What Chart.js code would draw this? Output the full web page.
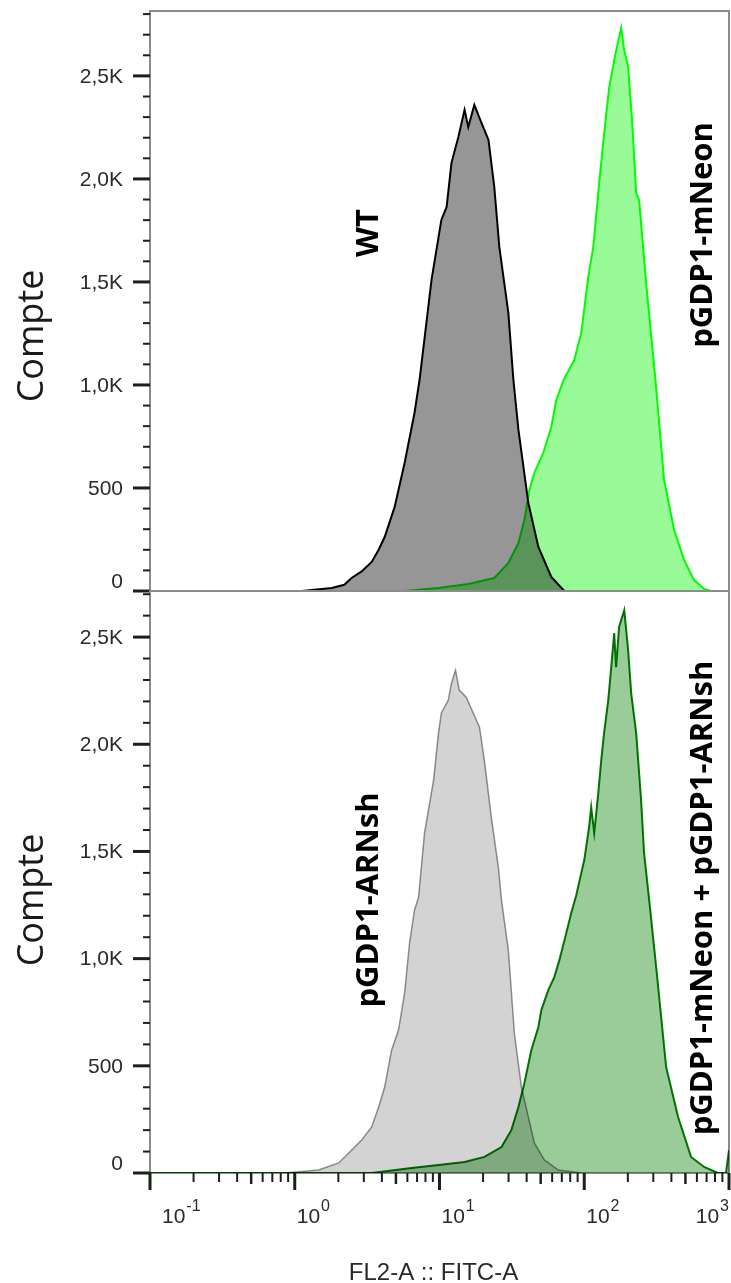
<!DOCTYPE html>
<html>
<head>
<meta charset="utf-8">
<title>FL2-A :: FITC-A</title>
<script src="https://cdn.jsdelivr.net/npm/chart.js@4.4.0/dist/chart.umd.min.js"></script>
<style>
  html, body { margin: 0; padding: 0; background: #fff; }
  #wrap { position: relative; width: 731px; height: 1283px; }
  canvas { position: absolute; left: 0; }
  #top-chart { top: 0; }
  #bottom-chart { top: 580px; }
</style>
</head>
<body>
<div id="wrap">
  <canvas id="top-chart" width="731" height="600"></canvas>
  <canvas id="bottom-chart" width="731" height="703"></canvas>
</div>
<script>
// valeurs : intensité FITC-A (log) et nombre d'événements

// panneau du haut : WT
const wtFluo = [1.12, 1.8, 2.2, 2.47, 2.9, 3.4, 3.8, 4.18, 4.9, 5.74, 6.72, 7.28, 8.81, 10.3, 11.2, 12.1, 13.5, 14.9, 15.8, 17.4, 19.5, 21.8, 23.9, 25.9, 29.9, 32.4, 35.1, 41.1, 48.2, 59.2, 72.8];
const wtCount = [0, 15, 30, 63, 95, 141, 200, 262, 408, 621, 864, 1024, 1510, 1801, 1864, 2078, 2204, 2335, 2252, 2359, 2272, 2189, 1961, 1670, 1350, 1024, 782, 427, 214, 68, 0];

// panneau du haut : pGDP1-mNeon
const mneonFluo = [0.1, 5.74, 9.84, 15.8, 23.9, 29.9, 35.1, 38.6, 41.8, 45.2, 52.1, 59.2, 64.1, 72, 85.3, 95.3, 106.6, 115.4, 126.8, 137.3, 148.6, 163.6, 179.9, 188.7, 201, 214, 228.5, 239.4, 267.7, 310, 356, 418, 490, 574, 673, 751, 1000];
const mneonCount = [0, 0, 15, 34, 63, 136, 233, 345, 490, 573, 670, 796, 927, 1024, 1121, 1252, 1524, 1670, 1981, 2223, 2442, 2602, 2733, 2626, 2544, 2286, 1932, 1898, 1495, 1030, 539, 296, 150, 53, 10, 0, 0];

// panneau du bas : pGDP1-ARNsh
const arnFluo = [0.853, 1.46, 2.01, 2.36, 2.9, 3.4, 3.8, 4.18, 4.67, 5.21, 5.74, 6.21, 6.72, 7.17, 7.88, 9.1, 9.84, 10.3, 11.5, 12.1, 12.9, 13.7, 15.3, 17.1, 18.9, 20.4, 22.8, 25.5, 26.8, 29.9, 32.9, 36.8, 41.1, 45.2, 53, 66.2, 95.3];
const arnCount = [0, 14, 47, 93, 154, 215, 308, 401, 574, 667, 840, 1073, 1227, 1287, 1586, 1833, 2052, 2146, 2206, 2285, 2346, 2253, 2220, 2146, 2080, 1926, 1660, 1427, 1273, 1040, 653, 401, 261, 140, 61, 14, 0];

// panneau du bas : pGDP1-mNeon + pGDP1-ARNsh
const comboFluo = [0.1, 3.4, 6.41, 9.84, 14.9, 20.4, 26.8, 31.4, 35.1, 38.6, 43.1, 48.2, 50.5, 56.5, 62.1, 67.3, 75.1, 81.3, 88.1, 95.3, 100, 108, 111.7, 117.2, 125, 131, 137, 146.5, 153.6, 161, 166, 174, 189, 201, 211, 228.5, 247, 259, 281, 314, 368, 445, 547, 673, 839, 953, 1000];
const comboCount = [0, 0, 23, 37, 51, 75, 121, 201, 308, 420, 574, 681, 760, 854, 914, 993, 1119, 1213, 1297, 1399, 1460, 1614, 1707, 1586, 1772, 1926, 2052, 2206, 2360, 2519, 2360, 2547, 2626, 2439, 2239, 2052, 1740, 1493, 1273, 961, 494, 261, 75, 28, 0, 0, 107];

// axes
const xDecades = [0.1, 1, 10, 100, 1000];
const xExponents = ['-1', '0', '1', '2', '3'];
const yMajorTicks = [0, 500, 1000, 1500, 2000, 2500];
const yTickLabels = ['0', '500', '1,0K', '1,5K', '2,0K', '2,5K'];
const topMax = 2815;
const bottomMax = 2715;

function toPoints(xs, ys) {
    return xs.map((x, i) => ({ x: x, y: ys[i] }));
}

function histo(label, xs, ys, fill, line, width) {
    return {
        label: label,
        data: toPoints(xs, ys),
        backgroundColor: fill,
        borderColor: line,
        borderWidth: width,
        fill: 'origin',
        pointRadius: 0,
        tension: 0
    };
}

const tickFont = '21px "Liberation Sans", Arial, sans-serif';
const supFont = '16px "Liberation Sans", Arial, sans-serif';

// cadre, graduations, textes (style FlowJo)
function axesPlugin(cfg) {
    return {
        id: 'cytoAxes',
        beforeDatasetsDraw(chart) {
            const ctx = chart.ctx;
            const a = chart.chartArea;
            ctx.save();
            ctx.strokeStyle = '#8c8c8c';
            ctx.lineWidth = 2;
            ctx.strokeRect(a.left, a.top, a.right - a.left, a.bottom - a.top);
            ctx.restore();
            // les histogrammes se superposent en "multiply"
            ctx.save();
            ctx.globalCompositeOperation = 'multiply';
        },
        afterDatasetsDraw(chart) {
            chart.ctx.restore();
        },
        afterDraw(chart) {
            const ctx = chart.ctx;
            const a = chart.chartArea;
            const xs = chart.scales.x;
            const ys = chart.scales.y;
            ctx.save();
            ctx.strokeStyle = '#1e1e1e';
            ctx.fillStyle = '#2a2a2a';

            // graduations Y
            for (let v = 0; v <= ys.max; v += 100) {
                const y = ys.getPixelForValue(v);
                const major = v % 500 === 0;
                ctx.lineWidth = major ? 3 : 2;
                ctx.beginPath();
                ctx.moveTo(a.left - (major ? 17 : 7), y);
                ctx.lineTo(a.left, y);
                ctx.stroke();
            }
            ctx.font = tickFont;
            ctx.textAlign = 'right';
            yMajorTicks.forEach((v, i) => {
                const y = ys.getPixelForValue(v);
                if (v === 0) {
                    ctx.textBaseline = 'alphabetic';
                    ctx.fillText(yTickLabels[i], a.left - 27, y - 3);
                } else {
                    ctx.textBaseline = 'middle';
                    ctx.fillText(yTickLabels[i], a.left - 27, y + 1);
                }
            });

            // graduations X (panneau du bas seulement)
            if (cfg.showX) {
                xDecades.forEach(d => {
                    const px = xs.getPixelForValue(d);
                    ctx.lineWidth = 3;
                    ctx.beginPath();
                    ctx.moveTo(px, a.bottom);
                    ctx.lineTo(px, a.bottom + 17);
                    ctx.stroke();
                    for (let k = 2; k <= 9; k++) {
                        const v = d * k;
                        if (v > xs.max) break;
                        const p = xs.getPixelForValue(v);
                        ctx.lineWidth = k === 5 ? 2.5 : 2;
                        ctx.beginPath();
                        ctx.moveTo(p, a.bottom);
                        ctx.lineTo(p, a.bottom + (k === 5 ? 11 : 9));
                        ctx.stroke();
                    }
                });

                ctx.textAlign = 'left';
                ctx.textBaseline = 'alphabetic';
                xDecades.forEach((d, i) => {
                    const px = xs.getPixelForValue(d);
                    ctx.font = tickFont;
                    const wBase = ctx.measureText('10').width;
                    ctx.font = supFont;
                    const wSup = ctx.measureText(xExponents[i]).width;
                    let left = px + 2;
                    if (left < a.left + 12) left = a.left + 12;
                    if (left + wBase + 1 + wSup > a.right) left = a.right - wBase - 1 - wSup;
                    ctx.font = tickFont;
                    ctx.fillText('10', left, a.bottom + 50);
                    ctx.font = supFont;
                    ctx.fillText(xExponents[i], left + wBase + 1, a.bottom + 38);
                });

                ctx.font = '24px "Liberation Sans", Arial, sans-serif';
                ctx.textAlign = 'center';
                ctx.fillText('FL2-A :: FITC-A', (a.left + a.right) / 2 - 6, a.bottom + 107);
            }

            // textes verticaux
            cfg.labels.forEach(l => {
                ctx.save();
                ctx.translate(l.x, l.y);
                ctx.rotate(-Math.PI / 2);
                ctx.font = l.font;
                ctx.fillStyle = l.color;
                ctx.textAlign = 'center';
                ctx.textBaseline = 'alphabetic';
                ctx.fillText(l.text, 0, 0);
                ctx.restore();
            });
            ctx.restore();
        }
    };
}

const labelFont = 'bold 31px "Open Sans", sans-serif';
const yTitleFont = '36px "Open Sans", sans-serif';

function makeChart(canvasId, datasets, yMax, padding, cfg) {
    return new Chart(document.getElementById(canvasId), {
        type: 'line',
        data: { datasets: datasets },
        options: {
            responsive: false,
            animation: false,
            events: [],
            layout: { padding: padding },
            scales: {
                x: { type: 'logarithmic', min: 0.1, max: 1000, display: false },
                y: { type: 'linear', min: 0, max: yMax, display: false }
            },
            plugins: {
                legend: { display: false },
                tooltip: { enabled: false }
            }
        },
        plugins: [axesPlugin(cfg)]
    });
}

makeChart('top-chart', [
    histo('WT', wtFluo, wtCount, '#969696', '#000000', 2),
    histo('pGDP1-mNeon', mneonFluo, mneonCount, '#98fb98', '#00ff00', 2)
], topMax, { left: 150, top: 11, right: 2, bottom: 9 }, {
    showX: false,
    labels: [
        { text: 'Compte', x: 43, y: 336, font: yTitleFont, color: '#1a1a1a' },
        { text: 'WT', x: 378, y: 233, font: labelFont, color: '#000' },
        { text: 'pGDP1-mNeon', x: 712, y: 235, font: labelFont, color: '#000' }
    ]
});

makeChart('bottom-chart', [
    histo('pGDP1-ARNsh', arnFluo, arnCount, '#d3d3d3', '#969696', 1.5),
    histo('pGDP1-mNeon + pGDP1-ARNsh', comboFluo, comboCount, '#99cc99', '#008000', 2)
], bottomMax, { left: 150, top: 11, right: 2, bottom: 110 }, {
    showX: true,
    labels: [
        { text: 'Compte', x: 43, y: 320, font: yTitleFont, color: '#1a1a1a' },
        { text: 'pGDP1-ARNsh', x: 378, y: 320, font: labelFont, color: '#000' },
        { text: 'pGDP1-mNeon + pGDP1-ARNsh', x: 712, y: 318, font: labelFont, color: '#000' }
    ]
});
</script>
</body>
</html>
